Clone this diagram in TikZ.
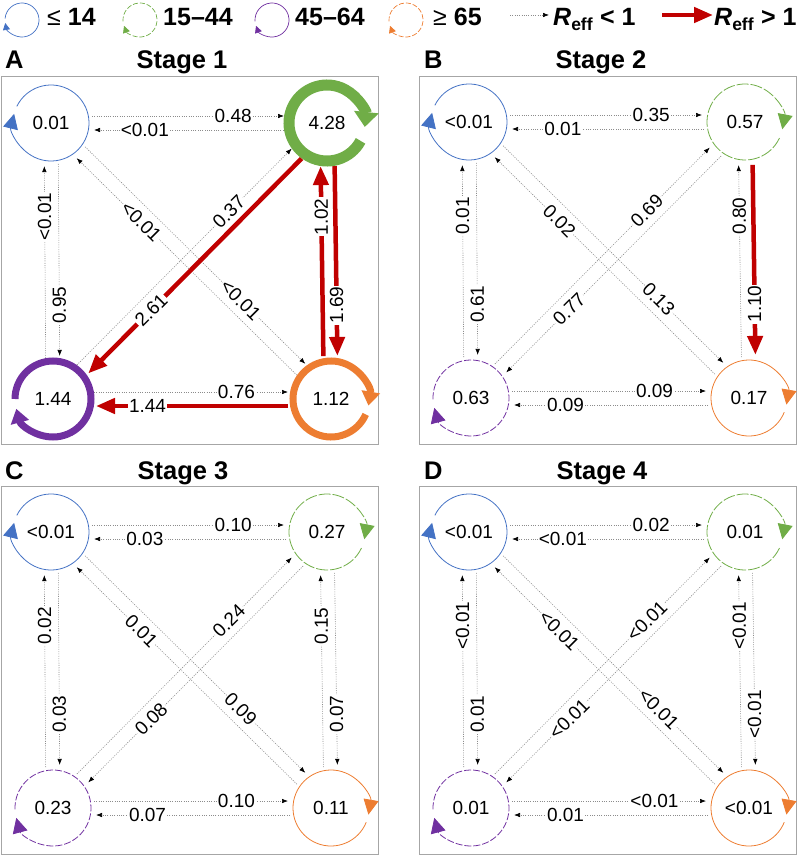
\documentclass[tikz,border=0pt]{standalone}
\usepackage{fontspec}
\setmainfont{Liberation Sans}
\usetikzlibrary{arrows.meta,calc}
\definecolor{cblue}{HTML}{4472C4}
\definecolor{cgreen}{HTML}{70AD47}
\definecolor{cpurple}{HTML}{7030A0}
\definecolor{corange}{HTML}{ED7D31}
\definecolor{cred}{HTML}{C00000}
\definecolor{dotgray}{HTML}{8C8C8C}
\definecolor{boxgray}{HTML}{A6A6A6}
\newcommand\pedge[5]{\draw[#1] ($(#2)!7pt!90:(#3)$) -- ($(#3)!7pt!-90:(#2)$) node[lab,rotate=#4]{#5};}
\newcommand\ploop[4]{\draw[#1] (#2) ++(#3:38) arc[start angle=#3, end angle=#4, radius=38];}
\newcommand\lloop[4]{\draw[#1] (#2) ++(#3:17) arc[start angle=#3, end angle=#4, radius=17];}
\begin{document}
\begin{tikzpicture}[x=1pt,y=-1pt,
  val/.style={circle, minimum size=76pt, inner sep=0pt, font=\fontsize{19}{20}\selectfont},
  lab/.style={fill=white, inner sep=1pt, pos=0.66, font=\fontsize{19}{20}\selectfont},
  dline/.style={draw=dotgray, line width=0.6pt, dash pattern=on 1pt off 1.3pt, -{Latex[length=6pt,width=4.5pt,color=black]}},
  dconn/.style={dline, shorten <=41pt, shorten >=43pt},
  rline/.style={draw=cred, line width=4.5pt, -{Triangle[length=19pt,width=15pt]}},
  rconn/.style={rline, shorten <=43pt, shorten >=43pt},
  panelbox/.style={draw=boxgray, line width=0.8pt},
  ttl/.style={font=\fontsize{25.5}{27}\selectfont\bfseries, inner sep=0pt},
  leg/.style={font=\fontsize{25}{27}\selectfont\bfseries, inner sep=0pt, anchor=base west},
  bluel/.style={draw=cblue, line width=0.8pt, -{Triangle[length=15pt,width=15pt]}},
  greenl/.style={draw=cgreen, line width=0.8pt, dash pattern=on 12pt off 2pt, -{Triangle[length=15pt,width=15pt]}},
  purplel/.style={draw=cpurple, line width=0.8pt, dash pattern=on 7pt off 2pt, -{Triangle[length=15pt,width=15pt]}},
  orangel/.style={draw=corange, line width=0.8pt, -{Triangle[length=15pt,width=15pt]}},
  greenk/.style={draw=cgreen, line width=11pt, -{Triangle[length=15pt,width=24pt]}},
  purplek/.style={draw=cpurple, line width=7pt, -{Triangle[length=14pt,width=18pt]}},
  orangek/.style={draw=corange, line width=7pt, -{Triangle[length=14pt,width=18pt]}},
  lgarrow/.style={-{Triangle[length=7pt,width=7pt]}}
]
\useasboundingbox (0,0) rectangle (797,856);

% ---------------- legend
\coordinate (lg1) at (22,20);
\coordinate (lg2) at (140,20);
\coordinate (lg3) at (272,20);
\coordinate (lg4) at (406,20);
\lloop{draw=cblue, line width=0.7pt, lgarrow}{lg1}{185}{530}
\lloop{draw=cgreen, line width=0.7pt, dash pattern=on 5pt off 2pt, lgarrow}{lg2}{175}{520}
\lloop{draw=cpurple, line width=0.7pt, lgarrow}{lg3}{175}{520}
\lloop{draw=corange, line width=0.7pt, dash pattern=on 5pt off 2pt, lgarrow}{lg4}{175}{520}
\node[leg] (t1) at (47,26) {{\mdseries ≤} 14};
\node[leg] (t2) at (163,26) {15–44};
\node[leg] (t3) at (295,26) {45–64};
\node[leg] (t4) at (433,26) {{\mdseries ≥} 65};
\coordinate (ld1) at (510,15);
\coordinate (ld2) at (549,15);
\draw[dline] (ld1) -- (ld2);
\node[leg] (t5) at (553,26) {\textit{R}\textsubscript{eff} < 1};
\coordinate (lr1) at (662,15);
\coordinate (lr2) at (713,15);
\draw[rline] (lr1) -- (lr2);
\node[leg] (t6) at (714,26) {\textit{R}\textsubscript{eff} > 1};

% ---------------- titles
\node[ttl, anchor=base west] (TA) at (5,69) {A};
\node[ttl, anchor=base] (SA) at (182,69) {Stage 1};
\node[ttl, anchor=base west] (TB) at (424,69) {B};
\node[ttl, anchor=base] (SB) at (601,69) {Stage 2};
\node[ttl, anchor=base west] (TC) at (5,479) {C};
\node[ttl, anchor=base] (SC) at (183,479) {Stage 3};
\node[ttl, anchor=base west] (TD) at (424,479) {D};
\node[ttl, anchor=base] (SD) at (602,479) {Stage 4};

% ---------------- panel A
\begin{scope}[shift={(1,76)}]
\draw[panelbox] (0,0) rectangle (377,368);
\node[val] (A-TL) at (50,47) {0.01};
\node[val] (A-TR) at (326,47) {4.28};
\node[val] (A-BL) at (52,323) {1.44};
\node[val] (A-BR) at (330,323) {1.12};
\pedge{dconn}{A-TL}{A-TR}{0}{0.48}
\pedge{dconn}{A-TR}{A-TL}{0}{<0.01}
\pedge{dconn}{A-BL}{A-TL}{90}{<0.01}
\pedge{dconn}{A-TL}{A-BL}{90}{0.95}
\pedge{dconn}{A-TL}{A-BR}{-45}{<0.01}
\pedge{dconn}{A-BR}{A-TL}{-45}{<0.01}
\pedge{dconn}{A-BL}{A-TR}{45}{0.37}
\pedge{rconn}{A-TR}{A-BL}{45}{2.61}
\pedge{rconn}{A-BR}{A-TR}{90}{1.02}
\pedge{rconn}{A-TR}{A-BR}{90}{1.69}
\pedge{dconn}{A-BL}{A-BR}{0}{0.76}
\pedge{rconn}{A-BR}{A-BL}{0}{1.44}
\ploop{bluel}{A-TL}{206}{554}
\ploop{greenk}{A-TR}{28}{366}
\ploop{purplek}{A-BL}{180}{525}
\ploop{orangek}{A-BR}{24}{370}
\end{scope}

% ---------------- panel B
\begin{scope}[shift={(419,76)}]
\draw[panelbox] (0,0) rectangle (377,368);
\node[val] (B-TL) at (50,46) {<0.01};
\node[val] (B-TR) at (326,46) {0.57};
\node[val] (B-BL) at (52,322) {0.63};
\node[val] (B-BR) at (330,322) {0.17};
\pedge{dconn}{B-TL}{B-TR}{0}{0.35}
\pedge{dconn}{B-TR}{B-TL}{0}{0.01}
\pedge{dconn}{B-BL}{B-TL}{90}{0.01}
\pedge{dconn}{B-TL}{B-BL}{90}{0.61}
\pedge{dconn}{B-BR}{B-TL}{-45}{0.02}
\pedge{dconn}{B-TL}{B-BR}{-45}{0.13}
\pedge{dconn}{B-BL}{B-TR}{45}{0.69}
\pedge{dconn}{B-TR}{B-BL}{45}{0.77}
\pedge{dconn}{B-BR}{B-TR}{90}{0.80}
\pedge{rconn}{B-TR}{B-BR}{90}{1.10}
\pedge{dconn}{B-BL}{B-BR}{0}{0.09}
\pedge{dconn}{B-BR}{B-BL}{0}{0.09}
\ploop{bluel}{B-TL}{206}{554}
\ploop{greenl}{B-TR}{25}{371}
\ploop{purplel}{B-BL}{178}{525}
\ploop{orangel}{B-BR}{22}{370}
\end{scope}

% ---------------- panel C
\begin{scope}[shift={(1,486)}]
\draw[panelbox] (0,0) rectangle (377,368);
\node[val] (C-TL) at (50,46) {<0.01};
\node[val] (C-TR) at (326,46) {0.27};
\node[val] (C-BL) at (52,322) {0.23};
\node[val] (C-BR) at (330,322) {0.11};
\pedge{dconn}{C-TL}{C-TR}{0}{0.10}
\pedge{dconn}{C-TR}{C-TL}{0}{0.03}
\pedge{dconn}{C-BL}{C-TL}{90}{0.02}
\pedge{dconn}{C-TL}{C-BL}{90}{0.03}
\pedge{dconn}{C-BR}{C-TL}{-45}{0.01}
\pedge{dconn}{C-TL}{C-BR}{-45}{0.09}
\pedge{dconn}{C-BL}{C-TR}{45}{0.24}
\pedge{dconn}{C-TR}{C-BL}{45}{0.08}
\pedge{dconn}{C-BR}{C-TR}{90}{0.15}
\pedge{dconn}{C-TR}{C-BR}{90}{0.07}
\pedge{dconn}{C-BL}{C-BR}{0}{0.10}
\pedge{dconn}{C-BR}{C-BL}{0}{0.07}
\ploop{bluel}{C-TL}{206}{554}
\ploop{greenl}{C-TR}{25}{371}
\ploop{purplel}{C-BL}{178}{525}
\ploop{orangel}{C-BR}{22}{370}
\end{scope}

% ---------------- panel D
\begin{scope}[shift={(419,486)}]
\draw[panelbox] (0,0) rectangle (377,368);
\node[val] (D-TL) at (50,46) {<0.01};
\node[val] (D-TR) at (326,46) {0.01};
\node[val] (D-BL) at (52,322) {0.01};
\node[val] (D-BR) at (330,322) {<0.01};
\pedge{dconn}{D-TL}{D-TR}{0}{0.02}
\pedge{dconn}{D-TR}{D-TL}{0}{<0.01}
\pedge{dconn}{D-BL}{D-TL}{90}{<0.01}
\pedge{dconn}{D-TL}{D-BL}{90}{0.01}
\pedge{dconn}{D-BR}{D-TL}{-45}{<0.01}
\pedge{dconn}{D-TL}{D-BR}{-45}{<0.01}
\pedge{dconn}{D-BL}{D-TR}{45}{<0.01}
\pedge{dconn}{D-TR}{D-BL}{45}{<0.01}
\pedge{dconn}{D-BR}{D-TR}{90}{<0.01}
\pedge{dconn}{D-TR}{D-BR}{90}{<0.01}
\pedge{dconn}{D-BL}{D-BR}{0}{<0.01}
\pedge{dconn}{D-BR}{D-BL}{0}{0.01}
\ploop{bluel}{D-TL}{206}{554}
\ploop{greenl}{D-TR}{25}{371}
\ploop{purplel}{D-BL}{178}{525}
\ploop{orangel}{D-BR}{22}{370}
\end{scope}
\end{tikzpicture}
\end{document}
